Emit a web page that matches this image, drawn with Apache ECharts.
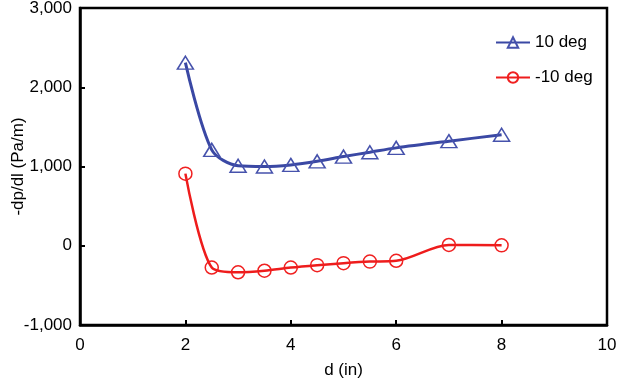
<!DOCTYPE html>
<html>
<head>
<meta charset="utf-8">
<script src="https://cdn.jsdelivr.net/npm/echarts@6/dist/echarts.min.js"></script>
<style>html,body{margin:0;padding:0;background:#fff}#c{width:620px;height:383px}</style>
</head>
<body>
<div id="c"></div>
<script>
const dValues = [2, 2.5, 3, 3.5, 4, 4.5, 5, 5.5, 6, 7, 8];
const pos10 = [2310, 1210, 1010, 1000, 1020, 1065, 1125, 1180, 1235, 1320, 1400];
const neg10 = [910, -275, -335, -315, -275, -245, -220, -200, -190, 10, 5];
const seriesNames = ['10 deg', '-10 deg'];
const xTicks = [0, 2, 4, 6, 8, 10];
const yTicks = [-1000, 0, 1000, 2000, 3000];

const font = 'Liberation Sans, Arial, Helvetica, sans-serif';
const chart = echarts.init(document.getElementById('c'), null, {renderer: 'canvas'});
const fmt = v => v.toLocaleString('en-US');
chart.setOption({
  animation: false,
  grid: {left: 80, right: 13, top: 8, bottom: 58, containLabel: false, outerBoundsMode: 'none',
         show: true, borderColor: '#000', borderWidth: 2.5, backgroundColor: 'transparent'},
  legend: {
    orient: 'vertical', left: 490, top: 29, itemGap: 18, itemWidth: 34, itemHeight: 13,
    textStyle: {fontFamily: font, fontSize: 17, color: '#000'},
    data: seriesNames
  },
  xAxis: {
    type: 'value', min: xTicks[0], max: xTicks[xTicks.length - 1], interval: 2,
    name: 'd (in)', nameLocation: 'middle', nameGap: 37, nameMoveOverlap: false,
    nameTextStyle: {fontFamily: font, fontSize: 17, color: '#000'},
    axisLine: {onZero: false, lineStyle: {color: '#000', width: 2.5}},
    axisTick: {inside: true, length: 5, lineStyle: {color: '#000', width: 2}},
    axisLabel: {fontFamily: font, fontSize: 17, color: '#000', margin: 12},
    splitLine: {show: false}
  },
  yAxis: {
    type: 'value', min: yTicks[0], max: yTicks[yTicks.length - 1], interval: 1000,
    name: '-dp/dl (Pa/m)', nameLocation: 'middle', nameGap: 53, nameMoveOverlap: false,
    nameTextStyle: {fontFamily: font, fontSize: 17, color: '#000'},
    axisLine: {show: true, onZero: false, lineStyle: {color: '#000', width: 2.5}},
    axisTick: {show: true, inside: true, length: 5, lineStyle: {color: '#000', width: 2}},
    axisLabel: {fontFamily: font, fontSize: 17, color: '#000', margin: 8, formatter: fmt},
    splitLine: {show: false}
  },
  series: [
    {
      name: seriesNames[0], type: 'line', smooth: 0.3,
      data: dValues.map((d, i) => [d, pos10[i]]),
      symbol: 'triangle', symbolSize: [16, 13],
      lineStyle: {color: '#3a48a4', width: 3},
      itemStyle: {color: 'rgba(255,255,255,0)', borderColor: '#4652ac', borderWidth: 1.5}
    },
    {
      name: seriesNames[1], type: 'line', smooth: 0.3,
      data: dValues.map((d, i) => [d, neg10[i]]),
      symbol: 'circle', symbolSize: 13,
      lineStyle: {color: '#ee1c1c', width: 2.5},
      itemStyle: {color: 'rgba(255,255,255,0)', borderColor: '#f02020', borderWidth: 1.5}
    }
  ]
});
</script>
</body>
</html>
